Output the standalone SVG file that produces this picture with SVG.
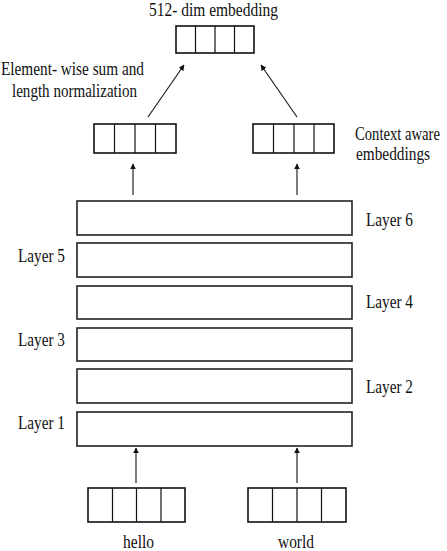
<svg xmlns="http://www.w3.org/2000/svg" width="447" height="551" viewBox="0 0 447 551">
<defs>
<style>
text{font-size:19px;fill:#111}
.box{fill:#fff;stroke:#111;stroke-width:1.6}
.div{stroke:#111;stroke-width:1.2}
.layer{fill:#fff;stroke:#222;stroke-width:1.6}
.conn{stroke:#111;stroke-width:1.1;fill:none;marker-end:url(#ah)}
</style>
<marker id="ah" viewBox="0 0 10 10" refX="9" refY="5" markerWidth="6" markerHeight="6" markerUnits="userSpaceOnUse" orient="auto">
<path d="M0,0 L10,5 L0,10 z" fill="#111"/>
</marker>
</defs>
<rect width="447" height="551" fill="#fff"/>
<g font-family="'Liberation Serif', 'DejaVu Serif', 'Noto Serif', Tinos, Times, serif">
<g id="out">
<text x="149" y="16" font-size="17" textLength="129" lengthAdjust="spacingAndGlyphs">512- dim embedding</text>
<rect class="box" x="176" y="26" width="78" height="27"/>
<line class="div" x1="195.5" y1="26" x2="195.5" y2="53"/>
<line class="div" x1="215" y1="26" x2="215" y2="53"/>
<line class="div" x1="234.5" y1="26" x2="234.5" y2="53"/>
</g>

<g id="sumlabel">
<text x="1" y="75" textLength="143" lengthAdjust="spacingAndGlyphs">Element- wise sum and</text>
<text x="12" y="97" textLength="125" lengthAdjust="spacingAndGlyphs">length normalization</text>
</g>

<g id="ctx-left">
<rect class="box" x="94" y="124" width="82" height="29"/>
<line class="div" x1="114.5" y1="124" x2="114.5" y2="153"/>
<line class="div" x1="135" y1="124" x2="135" y2="153"/>
<line class="div" x1="155.5" y1="124" x2="155.5" y2="153"/>
</g>
<g id="ctx-right">
<rect class="box" x="253" y="124" width="81" height="29"/>
<line class="div" x1="273.5" y1="124" x2="273.5" y2="153"/>
<line class="div" x1="294" y1="124" x2="294" y2="153"/>
<line class="div" x1="314" y1="124" x2="314" y2="153"/>
<text x="355" y="140" font-size="16" textLength="85" lengthAdjust="spacingAndGlyphs">Context aware</text>
<text x="356" y="160" textLength="74" lengthAdjust="spacingAndGlyphs">embeddings</text>
</g>

<g id="layer6"><rect class="layer" x="77" y="201" width="275" height="34"/><text x="366" y="226" textLength="47" lengthAdjust="spacingAndGlyphs">Layer 6</text></g>
<g id="layer5"><rect class="layer" x="77" y="243" width="275" height="34"/><text x="18" y="262" textLength="47" lengthAdjust="spacingAndGlyphs">Layer 5</text></g>
<g id="layer4"><rect class="layer" x="77" y="286" width="275" height="33"/><text x="366" y="308" textLength="47" lengthAdjust="spacingAndGlyphs">Layer 4</text></g>
<g id="layer3"><rect class="layer" x="77" y="328" width="275" height="33"/><text x="18" y="346" textLength="47" lengthAdjust="spacingAndGlyphs">Layer 3</text></g>
<g id="layer2"><rect class="layer" x="77" y="369" width="275" height="34"/><text x="366" y="393" textLength="47" lengthAdjust="spacingAndGlyphs">Layer 2</text></g>
<g id="layer1"><rect class="layer" x="77" y="412" width="275" height="34"/><text x="18" y="429" textLength="47" lengthAdjust="spacingAndGlyphs">Layer 1</text></g>

<g id="in-hello">
<rect class="box" x="88" y="488" width="97" height="34"/>
<line class="div" x1="112.5" y1="488" x2="112.5" y2="522"/>
<line class="div" x1="136.5" y1="488" x2="136.5" y2="522"/>
<line class="div" x1="161" y1="488" x2="161" y2="522"/>
<text x="123" y="548" textLength="31" lengthAdjust="spacingAndGlyphs">hello</text>
</g>
<g id="in-world">
<rect class="box" x="248" y="488" width="98" height="34"/>
<line class="div" x1="272.5" y1="488" x2="272.5" y2="522"/>
<line class="div" x1="297" y1="488" x2="297" y2="522"/>
<line class="div" x1="321.5" y1="488" x2="321.5" y2="522"/>
<text x="278" y="548" textLength="36" lengthAdjust="spacingAndGlyphs">world</text>
</g>
</g>
<g id="connectors">
<line class="conn" x1="136" y1="483" x2="136" y2="448"/>
<line class="conn" x1="297" y1="483" x2="297" y2="448"/>
<line class="conn" x1="133" y1="195" x2="133" y2="164"/>
<line class="conn" x1="297" y1="195" x2="297" y2="164"/>
<line class="conn" x1="148" y1="117" x2="184" y2="65"/>
<line class="conn" x1="297" y1="117" x2="261" y2="65"/>
</g>
</svg>
